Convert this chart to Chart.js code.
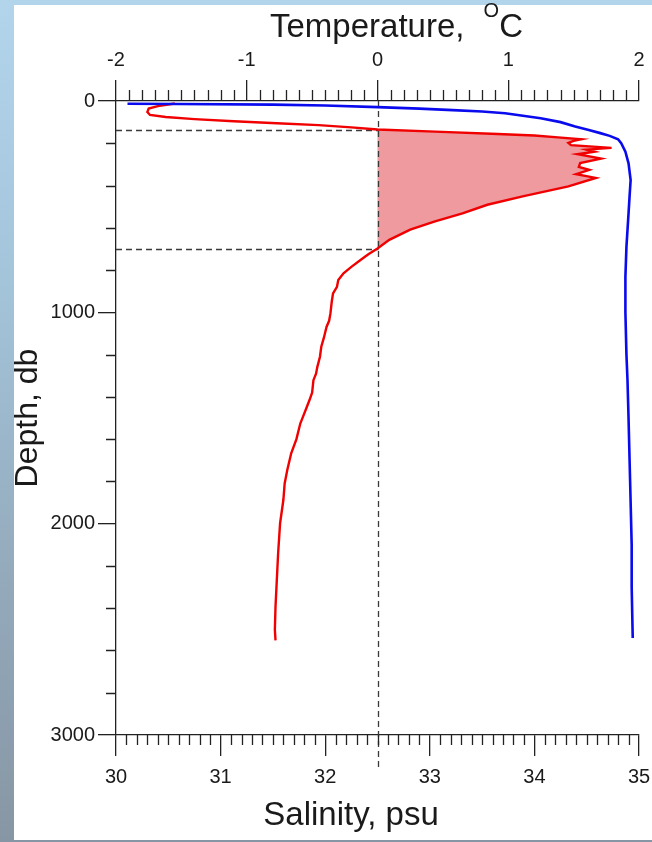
<!DOCTYPE html>
<html>
<head>
<meta charset="utf-8">
<script src="https://cdn.jsdelivr.net/npm/chart.js@4.4.0/dist/chart.umd.min.js"></script>
<style>
  html, body { margin: 0; padding: 0; }
  body {
    width: 652px; height: 842px; overflow: hidden; position: relative;
    background: linear-gradient(to bottom, #b3d5ec 0%, #a3c3d9 35%, #93a9ba 70%, #8796a4 100%);
  }
  #panel { position: absolute; left: 14px; top: 5px; width: 638px; height: 835px; background: #fff; }
  #profile { position: absolute; left: 14px; top: 0; display: block; }
</style>
</head>
<body>
<div id="panel"></div>
<canvas id="profile" width="638" height="840"></canvas>
<script>
// tick labels
const depthTicks = [0, 1000, 2000, 3000];
const tempTicks = [-2, -1, 0, 1, 2];
const salTicks = [30, 31, 32, 33, 34, 35];

// temperature profile (red), deg C vs depth in db
const tempDepth = [12, 24, 36, 52, 66, 76, 86, 96, 105, 114, 125, 135, 145, 156, 163, 172, 181, 189, 198, 209,
  222, 230, 240, 252, 273, 294, 312, 326, 346, 364, 404, 451, 491, 532, 570, 609, 657, 698, 725, 752,
  785, 815, 847, 879, 910, 950, 1005, 1040, 1069, 1120, 1163, 1210, 1258, 1290, 1321, 1380, 1415, 1447, 1510, 1525,
  1600, 1667, 1746, 1810, 1888, 1998, 2140, 2266, 2392, 2502, 2552];
const tempValue = [-1.55, -1.68, -1.75, -1.76, -1.74, -1.62, -1.40, -1.10, -0.77, -0.45, -0.20, 0.00, 0.44, 0.92, 1.20, 1.38, 1.56, 1.50, 1.46, 1.48,
  1.79, 1.60, 1.66, 1.53, 1.71, 1.55, 1.54, 1.62, 1.52, 1.67, 1.46, 1.11, 0.84, 0.65, 0.44, 0.25, 0.09, 0.00, -0.07, -0.13,
  -0.20, -0.26, -0.30, -0.31, -0.34, -0.35, -0.36, -0.37, -0.39, -0.41, -0.43, -0.44, -0.46, -0.47, -0.49, -0.50, -0.52, -0.54, -0.58, -0.59,
  -0.62, -0.66, -0.69, -0.71, -0.72, -0.745, -0.76, -0.77, -0.78, -0.785, -0.78];

// salinity profile (blue), psu vs depth in db
const salDepth = [13, 14, 17, 21, 29, 36, 43, 50, 58, 82, 100, 121, 137, 152, 165, 181, 200, 240, 295, 374,
  450, 532, 689, 831, 1000, 1200, 1320, 1500, 1700, 1900, 2100, 2300, 2541];
const salValue = [30.11, 30.6, 31.5, 32.0, 32.5, 32.9, 33.22, 33.5, 33.72, 34.06, 34.25, 34.39, 34.52, 34.63, 34.72, 34.80, 34.83, 34.87, 34.90, 34.92,
  34.91, 34.90, 34.88, 34.87, 34.87, 34.88, 34.89, 34.90, 34.91, 34.92, 34.93, 34.93, 34.94];

// warm layer bounds (dashed lines) and the 0 deg C reference
const boundaryDepths = [135, 698];
const zeroTemp = 0;

const FONT = '"Liberation Sans", Arial, sans-serif';
const axisColor = '#222';
const textColor = '#1a1a1a';

const tempPoints = tempValue.map((t, i) => ({ x: t, y: tempDepth[i] }));
const salPoints = salValue.map((s, i) => ({ x: s, y: salDepth[i] }));
const warmPoints = [{ x: zeroTemp, y: boundaryDepths[0] }]
  .concat(tempPoints.filter(p => p.y > boundaryDepths[0] && p.y < boundaryDepths[1]))
  .concat([{ x: zeroTemp, y: boundaryDepths[1] }]);

const profileExtras = {
  id: 'profileExtras',
  afterDatasetDraw(chart, args) {
    if (args.index !== 2) return;
    const { ctx, chartArea } = chart;
    const xT = chart.scales.xT, y = chart.scales.y;
    const x0 = Math.round(xT.getPixelForValue(zeroTemp)) + 0.5;
    ctx.save();
    ctx.strokeStyle = '#3a3a3a';
    ctx.lineWidth = 1.3;
    ctx.setLineDash([6, 4]);
    ctx.beginPath();
    ctx.moveTo(x0, chartArea.top);
    ctx.lineTo(x0, chartArea.bottom + 36);
    boundaryDepths.forEach(d => {
      const py = Math.round(y.getPixelForValue(d)) + 0.5;
      ctx.moveTo(chartArea.left, py);
      ctx.lineTo(x0, py);
    });
    ctx.stroke();
    ctx.restore();
  },
  afterDraw(chart) {
    const { ctx, chartArea } = chart;
    const { x, xT, y } = chart.scales;
    ctx.save();
    ctx.strokeStyle = axisColor;
    ctx.lineWidth = 1.3;
    ctx.beginPath();
    // minor ticks, every 0.1
    for (let i = 1; i < 40; i++) {
      if (i % 10 === 0) continue;
      const px = Math.round(xT.getPixelForValue(-2 + i * 0.1)) + 0.5;
      ctx.moveTo(px, chartArea.top);
      ctx.lineTo(px, chartArea.top - 11);
    }
    for (let i = 1; i < 50; i++) {
      if (i % 10 === 0) continue;
      const px = Math.round(x.getPixelForValue(30 + i * 0.1)) + 0.5;
      ctx.moveTo(px, chartArea.bottom);
      ctx.lineTo(px, chartArea.bottom + 10);
    }
    for (let d = 200; d < 3000; d += 200) {
      if (d % 1000 === 0) continue;
      const py = Math.round(y.getPixelForValue(d)) + 0.5;
      ctx.moveTo(chartArea.left, py);
      ctx.lineTo(chartArea.left - 10, py);
    }
    ctx.stroke();

    // axis titles
    ctx.fillStyle = textColor;
    ctx.textBaseline = 'alphabetic';
    ctx.font = '33px ' + FONT;
    ctx.textAlign = 'left';
    const t1 = 'Temperature, ';
    const tx = 256;
    ctx.fillText(t1, tx, 37);
    const ox = tx + ctx.measureText(t1).width + 10;
    ctx.font = '20px ' + FONT;
    ctx.fillText('O', ox, 17);
    const cx = ox + ctx.measureText('O').width;
    ctx.font = '33px ' + FONT;
    ctx.fillText('C', cx, 37);

    ctx.textAlign = 'center';
    ctx.fillText('Salinity, psu', 337, 825);

    ctx.translate(23, (chartArea.top + chartArea.bottom) / 2);
    ctx.rotate(-Math.PI / 2);
    ctx.font = '32px ' + FONT;
    ctx.fillText('Depth, db', 0, 0);
    ctx.restore();
  }
};

function linearAxis(ticks, extra) {
  return Object.assign({
    type: 'linear',
    min: ticks[0],
    max: ticks[ticks.length - 1],
    afterBuildTicks: s => { s.ticks = ticks.map(v => ({ value: v })); },
    ticks: {
      callback: v => String(v),
      color: textColor,
      font: { family: FONT, size: 20 },
      maxRotation: 0,
      autoSkip: false
    },
    grid: { drawOnChartArea: false, drawTicks: true, color: axisColor, lineWidth: 1.3 },
    border: { display: true, color: axisColor, width: 1.3 },
    title: { display: false }
  }, extra);
}

function fixHeight(h) {
  return s => { s.height = h; s.paddingLeft = 0; s.paddingRight = 0; };
}

const scales = {
  x: linearAxis(salTicks, { position: 'bottom', afterFit: fixHeight(105) }),
  xT: linearAxis(tempTicks, { axis: 'x', position: 'top', afterFit: fixHeight(101) }),
  y: linearAxis(depthTicks, { position: 'left', reverse: true, afterFit: s => { s.width = 102; s.paddingTop = 0; s.paddingBottom = 0; } })
};
scales.x.grid.tickLength = 21;
scales.x.ticks.padding = 9;
scales.xT.grid.tickLength = 21;
scales.xT.ticks.padding = 8;
scales.y.grid.tickLength = 18;
scales.y.ticks.padding = 3;

new Chart(document.getElementById('profile'), {
  type: 'scatter',
  data: {
    datasets: [
      {
        label: 'Salinity',
        data: salPoints,
        xAxisID: 'x', yAxisID: 'y',
        showLine: true,
        borderColor: '#0a0aee',
        borderWidth: 2.6,
        pointRadius: 0,
        fill: false
      },
      {
        label: 'Temperature',
        data: tempPoints,
        xAxisID: 'xT', yAxisID: 'y',
        showLine: true,
        borderColor: '#f00000',
        borderWidth: 2.4,
        pointRadius: 0,
        fill: false
      },
      {
        label: 'Warm layer',
        data: warmPoints,
        xAxisID: 'xT', yAxisID: 'y',
        showLine: true,
        borderColor: 'rgba(0,0,0,0)',
        borderWidth: 0,
        pointRadius: 0,
        backgroundColor: '#ee9a9e',
        fill: 'shape'
      }
    ]
  },
  options: {
    responsive: false,
    maintainAspectRatio: false,
    devicePixelRatio: 1,
    animation: false,
    layout: { padding: { left: 0, top: 0, right: 13, bottom: 0 } },
    plugins: { legend: { display: false }, tooltip: { enabled: false } },
    scales: scales
  },
  plugins: [profileExtras]
});
</script>
</body>
</html>
